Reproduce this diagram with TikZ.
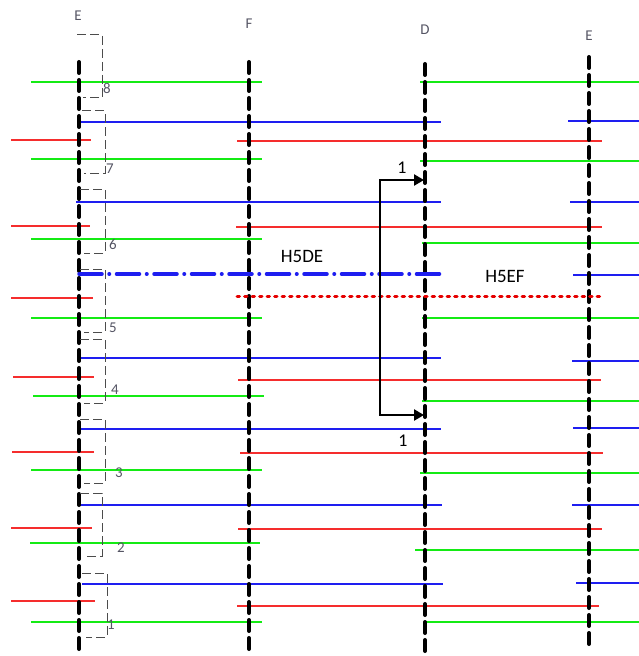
\documentclass[tikz,border=0pt]{standalone}
\usepackage{fontspec}
\setmainfont{Carlito}
\usetikzlibrary{arrows.meta}

\definecolor{lblgray}{RGB}{85,85,100}
\definecolor{lgreen}{RGB}{20,235,20}
\definecolor{lblue}{RGB}{30,30,240}
\definecolor{lred}{RGB}{245,45,45}

\begin{document}
\begin{tikzpicture}[
  x=1bp, y=-1bp,
  axis/.style={line width=4bp, line cap=round, dash pattern=on 11bp off 7bp},
  grn/.style={draw=lgreen, line width=1.35bp},
  blu/.style={draw=lblue, line width=1.35bp},
  rd/.style={draw=lred, line width=1.35bp},
  dashdot/.style={draw=lblue, line width=3.5bp, line cap=round,
                  dash pattern=on 23bp off 7bp on 0.5bp off 7bp},
  reddots/.style={draw=red!90!black, line width=3bp, line cap=round,
                  dash pattern=on 2.5bp off 5bp},
  brk/.style={draw=gray!60!black, line width=1bp, dash pattern=on 9bp off 4bp},
  arrw/.style={line width=2.5bp, >={Triangle[length=10bp,width=11bp]}},
  axlab/.style={text=lblgray, font=\fontsize{15}{17}\selectfont},
  numlab/.style={text=lblgray, font=\fontsize{15}{17}\selectfont},
  hlab/.style={font=\fontsize{19}{22}\selectfont},
  onelab/.style={font=\fontsize{18}{21}\selectfont}
]
\useasboundingbox (0,0) rectangle (639,656);

\draw[grn] (31,82) -- (262,82) (31,159) -- (262,159) (31,239) -- (262,239)
  (31,318) -- (262,318) (33,396) -- (264,396) (31,470) -- (262,470)
  (30,543) -- (260,543) (31,622) -- (262,622);
\draw[grn] (420,82) -- (639,82) (420,161) -- (639,161) (422,243) -- (639,243)
  (422,318) -- (639,318) (422,401) -- (639,401) (420,473) -- (639,473)
  (415,550) -- (639,550) (425,622) -- (639,622);
\draw[blu] (77,122) -- (441,122) (76,202) -- (441,202) (77,358) -- (441,358)
  (77,429) -- (441,429) (78,505) -- (442,505) (82,584) -- (443,584);
\draw[blu] (568,121) -- (639,121) (570,202) -- (639,202) (573,275) -- (639,275)
  (572,361) -- (639,361) (573,428) -- (639,428) (572,505) -- (639,505)
  (576,583) -- (639,583);
\draw[rd] (11,140) -- (91,140) (11,226) -- (90,226) (11,298) -- (93,298)
  (13,377) -- (94,377) (12,452) -- (94,452) (11,528) -- (92,528)
  (11,601) -- (95,601);
\draw[rd] (237,141) -- (602,141) (236,227) -- (602,227) (238,380) -- (601,380)
  (240,453) -- (603,453) (238,529) -- (602,529) (237,606) -- (599,606);

\draw[axis] (79,62) -- (79,650);
\draw[axis] (249,62) -- (249,650);
\draw[axis] (425,64) -- (425,655);
\draw[axis] (589,57) -- (589,646);

\node[axlab] (labE1) at (78,16) {E};
\node[axlab] (labF)  at (249,24) {F};
\node[axlab] (labD)  at (425,30) {D};
\node[axlab] (labE2) at (589,36) {E};

\draw[brk] (77,35) -- (102,35) -- (102,98) -- (83,98);
\draw[brk] (82,111) -- (105,111) -- (105,173) -- (84,173);
\draw[brk] (80,189) -- (105,189) -- (105,253) -- (84,253);
\draw[brk] (80,269) -- (105,269) -- (105,332) -- (84,332);
\draw[brk] (80,339) -- (105,339) -- (105,403) -- (84,403);
\draw[brk] (80,419) -- (105,419) -- (105,483) -- (84,483);
\draw[brk] (80,493) -- (102,493) -- (102,556) -- (83,556);
\draw[brk] (82,573) -- (107,573) -- (107,637) -- (86,637);
\node[numlab] (n8) at (107,88) {8};
\node[numlab] (n7) at (110,169) {7};
\node[numlab] (n6) at (113,245) {6};
\node[numlab] (n5) at (113,328) {5};
\node[numlab] (n4) at (115,390) {4};
\node[numlab] (n3) at (119,473) {3};
\node[numlab] (n2) at (121,548) {2};
\node[numlab] (n1) at (111,625) {1};

\draw[dashdot] (79,274) -- (441,274);
\draw[reddots] (237,296) -- (604,296);
\node[hlab] (h5de) at (302,256) {H5DE};
\node[hlab] (h5ef) at (505,276) {H5EF};

\coordinate (arTop) at (380,180);
\coordinate (arBot) at (380,415);
\coordinate (dTop) at (424,180);
\coordinate (dBot) at (424,415);
\draw[arrw, <->] (dTop) -- (arTop) -- (arBot) -- (dBot);
\node[onelab] (oneTop) at (402,168) {1};
\node[onelab] (oneBot) at (403,441) {1};
\end{tikzpicture}
\end{document}
